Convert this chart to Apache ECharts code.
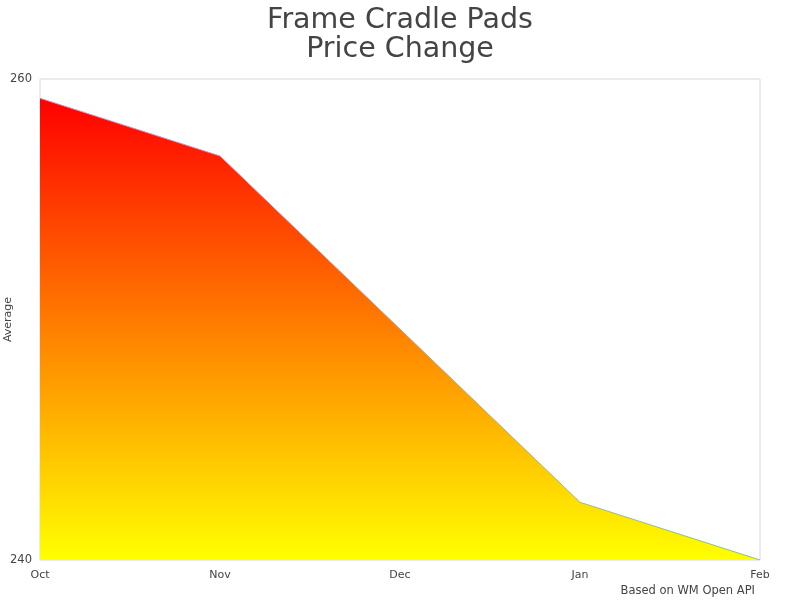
<!DOCTYPE html>
<html>
<head>
<meta charset="utf-8">
<script src="https://cdn.jsdelivr.net/npm/echarts@6/dist/echarts.min.js"></script>
<style>html,body{margin:0;padding:0;background:#fff;}#c{width:800px;height:600px;}</style>
</head>
<body>
<div id="c"></div>
<script>
const categories = ['Oct', 'Nov', 'Dec', 'Jan', 'Feb'];
const averageValues = [259.2, 256.8, 249.6, 242.4, 240.0];
const yTicks = [240, 260];

const chart = echarts.init(document.getElementById('c'));
chart.setOption({
  animation: false,
  backgroundColor: '#fff',
  title: {
    text: 'Frame Cradle Pads\nPrice Change',
    left: 'center',
    top: 1,
    textStyle: { fontFamily: 'DejaVu Sans', fontSize: 28.5, fontWeight: 'normal', color: '#444', lineHeight: 29 }
  },
  graphic: [{
    type: 'text',
    right: 45,
    top: 585,
    style: { text: 'Based on WM Open API', fontFamily: 'DejaVu Sans', fontSize: 11.5, fill: '#444' }
  }],
  grid: { left: 40, right: 40, top: 79, bottom: 40, containLabel: false, outerBoundsMode: 'none', show: true, borderColor: '#d8d8d8', borderWidth: 1, backgroundColor: 'transparent' },
  xAxis: {
    type: 'category',
    data: categories,
    boundaryGap: false,
    axisLine: { show: false },
    axisTick: { show: false },
    splitLine: { show: false },
    axisLabel: { fontFamily: 'DejaVu Sans', fontSize: 11, color: '#444', margin: 10 }
  },
  yAxis: {
    type: 'value',
    min: yTicks[0],
    max: yTicks[1],
    interval: yTicks[1] - yTicks[0],
    name: 'Average',
    nameLocation: 'middle',
    nameGap: 26,
    nameMoveOverlap: false,
    nameTextStyle: { fontFamily: 'DejaVu Sans', fontSize: 11, color: '#444' },
    axisLine: { show: false },
    axisTick: { show: false },
    splitLine: { show: false },
    axisLabel: { fontFamily: 'DejaVu Sans', fontSize: 11.5, color: '#444', margin: 8 }
  },
  series: [{
    type: 'line',
    data: averageValues,
    showSymbol: false,
    lineStyle: { color: '#7cb5ec', width: 1 },
    itemStyle: { color: '#7cb5ec' },
    areaStyle: {
      opacity: 1,
      color: new echarts.graphic.LinearGradient(0, 0, 0, 1, [
        { offset: 0, color: '#ff0000' },
        { offset: 1, color: '#ffff00' }
      ])
    }
  }]
});
</script>
</body>
</html>
